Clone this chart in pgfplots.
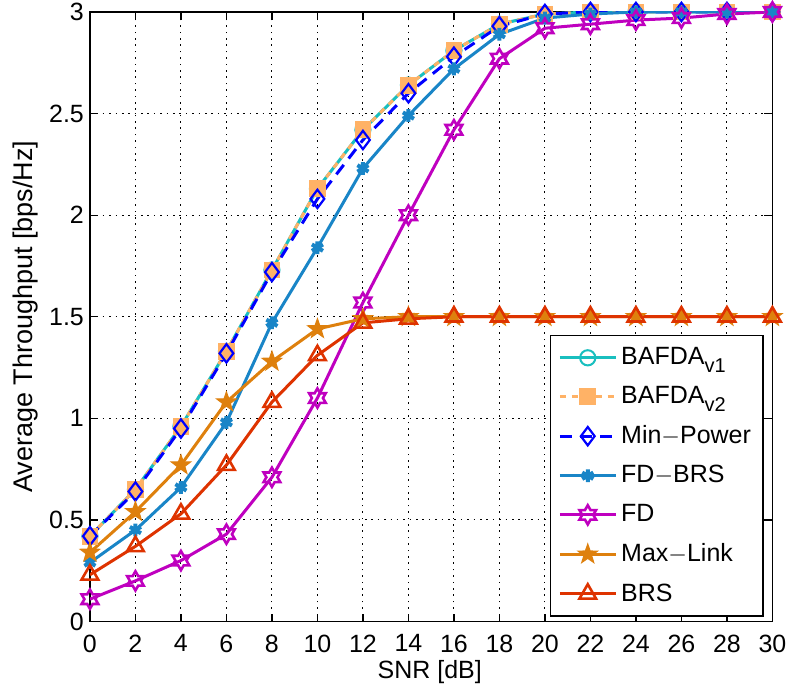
\documentclass[border=0pt]{standalone}
\usepackage{fontspec}
\setmainfont{Liberation Sans}
\usepackage{pgfplots}
\pgfplotsset{compat=1.18}
\usetikzlibrary{plotmarks}
\definecolor{cteal}{rgb}{0.1,0.75,0.75}
\definecolor{clorange}{rgb}{1,0.7,0.4}
\definecolor{cblue}{rgb}{0,0,1}
\definecolor{cfdbrs}{rgb}{0.1,0.52,0.78}
\definecolor{cmag}{rgb}{0.75,0,0.75}
\definecolor{corange}{rgb}{0.87,0.5,0.05}
\definecolor{cred}{rgb}{0.87,0.2,0}
\newcommand{\sub}[1]{\raisebox{-0.6ex}{\fontsize{10}{10}\selectfont #1}}
\pgfdeclareplotmark{pentagram}{%
 \pgfpathmoveto{\pgfpointpolar{90}{\pgfplotmarksize}}%
 \pgfpathlineto{\pgfpointpolar{126}{0.4\pgfplotmarksize}}%
 \pgfpathlineto{\pgfpointpolar{162}{\pgfplotmarksize}}%
 \pgfpathlineto{\pgfpointpolar{198}{0.4\pgfplotmarksize}}%
 \pgfpathlineto{\pgfpointpolar{234}{\pgfplotmarksize}}%
 \pgfpathlineto{\pgfpointpolar{270}{0.4\pgfplotmarksize}}%
 \pgfpathlineto{\pgfpointpolar{306}{\pgfplotmarksize}}%
 \pgfpathlineto{\pgfpointpolar{342}{0.4\pgfplotmarksize}}%
 \pgfpathlineto{\pgfpointpolar{18}{\pgfplotmarksize}}%
 \pgfpathlineto{\pgfpointpolar{54}{0.4\pgfplotmarksize}}%
 \pgfpathclose\pgfusepathqfillstroke}
\pgfdeclareplotmark{hexagram}{%
 \pgfpathmoveto{\pgfpointpolar{90}{\pgfplotmarksize}}%
 \pgfpathlineto{\pgfpointpolar{120}{0.577\pgfplotmarksize}}%
 \pgfpathlineto{\pgfpointpolar{150}{\pgfplotmarksize}}%
 \pgfpathlineto{\pgfpointpolar{180}{0.577\pgfplotmarksize}}%
 \pgfpathlineto{\pgfpointpolar{210}{\pgfplotmarksize}}%
 \pgfpathlineto{\pgfpointpolar{240}{0.577\pgfplotmarksize}}%
 \pgfpathlineto{\pgfpointpolar{270}{\pgfplotmarksize}}%
 \pgfpathlineto{\pgfpointpolar{300}{0.577\pgfplotmarksize}}%
 \pgfpathlineto{\pgfpointpolar{330}{\pgfplotmarksize}}%
 \pgfpathlineto{\pgfpointpolar{0}{0.577\pgfplotmarksize}}%
 \pgfpathlineto{\pgfpointpolar{30}{\pgfplotmarksize}}%
 \pgfpathlineto{\pgfpointpolar{60}{0.577\pgfplotmarksize}}%
 \pgfpathclose\pgfusepathqstroke}
\begin{document}
\begin{tikzpicture}
\begin{axis}[
 scale only axis,
 width=341.5pt, height=305pt,
 xmin=0, xmax=30, ymin=0, ymax=3,
 xtick={0,2,...,30},
 ytick={0,0.5,1,1.5,2,2.5,3},
 yticklabels={0,0.5,1,1.5,2,2.5,3},
 /pgf/number format/assume math mode=true,
 tick align=inside,
 xtick pos=both, ytick pos=both,
 major tick length=4pt,
 tick style={black, line width=0.6pt},
 axis line style={line width=0.7pt},
 grid=major,
 major grid style={black, line width=0.5pt, dash pattern=on 0.8pt off 2.4pt},
 tick label style={font=\fontsize{12.5}{14}\selectfont},
 xticklabel style={yshift=-3pt},
 yticklabel style={xshift=0.5pt},
 xlabel={SNR [dB]},
 ylabel={Average Throughput [bps/Hz]},
 xlabel style={font=\fontsize{12.5}{14}\selectfont, at={(axis description cs:0.498,-0.0836)}, anchor=center},
 ylabel style={font=\fontsize{13.5}{15}\selectfont, at={(axis description cs:-0.0937,0.5)}, anchor=center},
 legend style={at={(0.987,0.008)}, anchor=south east, font=\fontsize{12.5}{15}\selectfont, draw=black, line width=0.6pt, row sep=5.4pt, inner xsep=4pt, inner ysep=4pt},
 legend cell align=left,
 legend image code/.code={\draw[mark repeat=2,mark phase=2] plot coordinates {(0pt,0pt)(14pt,0pt)(28pt,0pt)};},
 every axis plot/.append style={line width=1.5pt},
 mark size=3.8pt,
]
\addplot[cteal, mark=o, mark options={solid, line width=1pt}] coordinates {
(0,0.42)(2,0.65)(4,0.96)(6,1.33)(8,1.73)(10,2.13)(12,2.42)(14,2.64)(16,2.81)(18,2.94)(20,2.99)(22,3.0)(24,3.0)(26,3.0)(28,3.0)(30,3.0)};
\addlegendentry{BAFDA\sub{v1}}
\addplot[clorange, dashed, mark=square*, mark options={solid, fill=clorange, line width=0.8pt}] coordinates {
(0,0.42)(2,0.65)(4,0.96)(6,1.33)(8,1.73)(10,2.13)(12,2.42)(14,2.64)(16,2.81)(18,2.94)(20,2.99)(22,3.0)(24,3.0)(26,3.0)(28,3.0)(30,3.0)};
\addlegendentry{BAFDA\sub{v2}}
\addplot[cblue, dash pattern=on 6pt off 4pt, mark=diamond, mark options={solid, line width=1.1pt}, mark size=4.6pt] coordinates {
(0,0.42)(2,0.64)(4,0.95)(6,1.32)(8,1.72)(10,2.08)(12,2.37)(14,2.60)(16,2.78)(18,2.93)(20,2.99)(22,3.0)(24,3.0)(26,3.0)(28,3.0)(30,3.0)};
\addlegendentry{Min$-$Power}
\addplot[cfdbrs, mark=asterisk, mark options={solid, line width=2pt}, mark size=3.2pt] coordinates {
(0,0.29)(2,0.45)(4,0.66)(6,0.98)(8,1.47)(10,1.84)(12,2.23)(14,2.49)(16,2.72)(18,2.89)(20,2.97)(22,2.99)(24,3.0)(26,3.0)(28,3.0)(30,3.0)};
\addlegendentry{FD$-$BRS}
\addplot[cmag, mark=hexagram, mark options={solid, line width=1.3pt}, mark size=4.8pt] coordinates {
(0,0.11)(2,0.20)(4,0.30)(6,0.43)(8,0.71)(10,1.10)(12,1.57)(14,2.00)(16,2.42)(18,2.77)(20,2.92)(22,2.94)(24,2.96)(26,2.97)(28,2.99)(30,3.0)};
\addlegendentry{FD}
\addplot[corange, mark=pentagram, mark options={solid, fill=corange, line width=0.6pt}, mark size=5pt] coordinates {
(0,0.34)(2,0.54)(4,0.77)(6,1.08)(8,1.28)(10,1.44)(12,1.49)(14,1.50)(16,1.50)(18,1.50)(20,1.50)(22,1.50)(24,1.50)(26,1.50)(28,1.50)(30,1.50)};
\addlegendentry{Max$-$Link}
\addplot[cred, mark=triangle, mark options={solid, line width=1.3pt}, mark size=4.8pt] coordinates {
(0,0.23)(2,0.37)(4,0.53)(6,0.77)(8,1.08)(10,1.31)(12,1.47)(14,1.49)(16,1.50)(18,1.50)(20,1.50)(22,1.50)(24,1.50)(26,1.50)(28,1.50)(30,1.50)};
\addlegendentry{BRS}
\end{axis}
\pgfresetboundingbox
\useasboundingbox ([shift={(-45pt,-33pt)}]current axis.south west) rectangle ([shift={(6.8pt,6pt)}]current axis.north east);
\end{tikzpicture}
\end{document}
